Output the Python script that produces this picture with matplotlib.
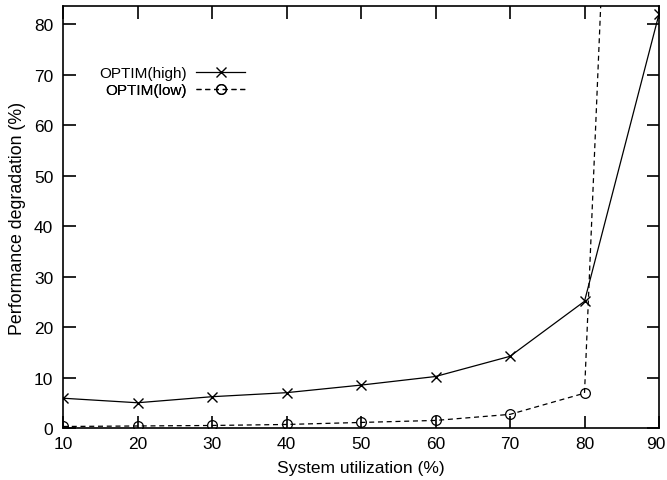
import matplotlib
matplotlib.use("Agg")
import matplotlib.pyplot as plt
import matplotlib.transforms as mtransforms

plt.rcParams['font.family'] = ['Liberation Sans', 'DejaVu Sans']

# 데이터
utilization = [10, 20, 30, 40, 50, 60, 70, 80, 90]
optim_high = [5.9, 5.0, 6.2, 7.0, 8.5, 10.2, 14.2, 25.1, 82.0]
optim_low = [0.3, 0.4, 0.5, 0.7, 1.1, 1.5, 2.7, 6.9, 360.0]

fig = plt.figure(figsize=(6.67, 4.81), dpi=100)
ax = fig.add_axes([63 / 667, 52 / 481, 596 / 667, 422 / 481])

ln_high, = ax.plot(utilization, optim_high, color='black', linewidth=0.9,
                   marker='x', markersize=7, markeredgewidth=1.0, label='OPTIM(high)')
ln_low, = ax.plot(utilization, optim_low, color='black', linewidth=0.9, linestyle=(0, (4, 3)),
                  marker='o', markersize=7, markerfacecolor='none', markeredgewidth=0.9,
                  label='OPTIM(low)')

ax.set_xlim(10, 90)
ax.set_ylim(0, 83.6)
ax.set_xticks(range(10, 91, 10))
ax.set_yticks(range(0, 81, 10))
ax.tick_params(direction='in', length=9, width=1.2, top=True, right=True, labelsize=12.5)
ax.tick_params(axis='x', pad=6)
ax.tick_params(axis='y', pad=7)
for s in ax.spines.values():
    s.set_linewidth(1.2)

# 마지막 눈금 라벨이 잘리지 않게 살짝 왼쪽으로
last = ax.get_xticklabels()[-1]
last.set_transform(last.get_transform() + mtransforms.ScaledTranslation(-3 / 100, 0, fig.dpi_scale_trans))

ax.set_xlabel('System utilization (%)', fontsize=12.5, labelpad=6)
ax.set_ylabel('Performance degradation (%)', fontsize=12.8, labelpad=6)

# 범례 (텍스트 오른쪽 정렬, 마커는 뒤쪽)
for line, y in [(ln_high, (429 - 74) / 422), (ln_low, (429 - 91) / 422)]:
    leg = ax.legend(handles=[line], loc='center right', bbox_to_anchor=((245 - 63) / 596, y),
                    frameon=False, markerfirst=False, fontsize=11, borderpad=0,
                    borderaxespad=0, handlelength=3.2, handletextpad=0.6)
    ax.add_artist(leg)

fig.savefig('out.png', dpi=100)
